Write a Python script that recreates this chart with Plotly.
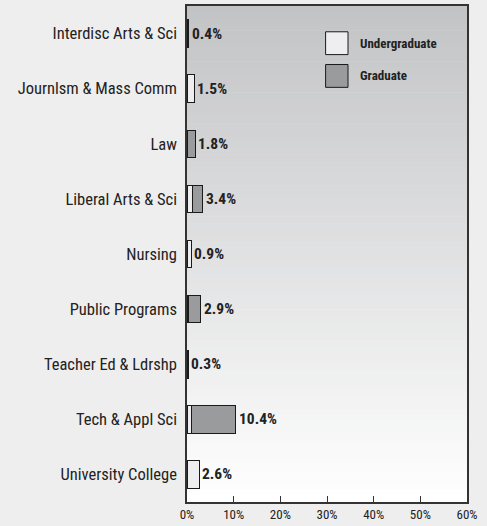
import plotly.graph_objects as go

categories = ["Interdisc Arts & Sci", "Journlsm & Mass Comm", "Law", "Liberal Arts & Sci",
              "Nursing", "Public Programs", "Teacher Ed & Ldrshp", "Tech & Appl Sci",
              "University College"]
undergrad = [0.1, 1.5, 0.0, 1.1, 0.9, 0.4, 0.1, 1.0, 2.6]
graduate = [0.3, 0.0, 1.8, 2.3, 0.0, 2.5, 0.2, 9.4, 0.0]
total_labels = ["0.4%", "1.5%", "1.8%", "3.4%", "0.9%", "2.9%", "0.3%", "10.4%", "2.6%"]
x_ticks = [0, 10, 20, 30, 40, 50, 60]
x_tick_labels = ["0%", "10%", "20%", "30%", "40%", "50%", "60%"]
series_names = ["Undergraduate", "Graduate"]

FONT = "Liberation Sans Narrow, Roboto Condensed, Arial Narrow, sans-serif"
UG_COLOR = "#eeeef0"
GR_COLOR = "#9a9b9d"

fig = go.Figure()
fig.add_trace(go.Bar(y=categories, x=undergrad, orientation="h", name=series_names[0],
                     marker=dict(color=UG_COLOR, line=dict(color="#1a1a1a", width=1)),
                     showlegend=False, hoverinfo="x+y"))
fig.add_trace(go.Bar(y=categories, x=graduate, orientation="h", name=series_names[1],
                     marker=dict(color=GR_COLOR, line=dict(color="#1a1a1a", width=1)),
                     showlegend=False, hoverinfo="x+y"))

# total labels
annotations = []
for cat, u, g, lab in zip(categories, undergrad, graduate, total_labels):
    annotations.append(dict(x=u + g, y=cat, xref="x", yref="y", text=lab, showarrow=False,
                            xanchor="left", xshift=1,
                            font=dict(family=FONT, size=15.5, color="#222222", weight="bold")))

# gradient background via stacked bands
shapes = []
n = 80
top = (194, 195, 197)
bot = (255, 255, 255)
for i in range(n):
    t = (i + 0.5) / n
    c = tuple(int(round(top[k] + (bot[k] - top[k]) * t)) for k in range(3))
    shapes.append(dict(type="rect", xref="x domain", yref="y domain",
                       x0=0, x1=1, y0=1 - (i + 1) / n, y1=1 - i / n + 0.001,
                       fillcolor="rgb(%d,%d,%d)" % c, line=dict(width=0), layer="below"))

# legend (custom)
leg_x0 = 0.495
for j, (nm, col) in enumerate(zip(series_names, [UG_COLOR, GR_COLOR])):
    yc = 0.925 - j * 0.066
    shapes.append(dict(type="rect", xref="x domain", yref="y domain",
                       x0=leg_x0, x1=leg_x0 + 0.08, y0=yc - 0.023, y1=yc + 0.023,
                       fillcolor=col, line=dict(color="#1a1a1a", width=1), layer="above"))
    annotations.append(dict(x=leg_x0 + 0.115, y=yc, xref="x domain", yref="y domain",
                            text=nm, showarrow=False, xanchor="left", yanchor="middle",
                            font=dict(family=FONT, size=13, color="#222222", weight="bold")))

fig.update_layout(
    width=487, height=526,
    margin=dict(l=187, r=20, t=4, b=21),
    paper_bgcolor="#eeeeee",
    plot_bgcolor="#ffffff",
    barmode="stack",
    bargap=0.5,
    showlegend=False,
    shapes=shapes,
    annotations=annotations,
    font=dict(family=FONT, color="#222222"),
)
fig.update_xaxes(range=[0, 60], tickvals=x_ticks, ticktext=x_tick_labels,
                 ticks="inside", ticklen=6, tickcolor="#333333",
                 showline=True, linecolor="#333333", linewidth=1.5, mirror=True,
                 showgrid=False, zeroline=False,
                 tickfont=dict(family=FONT, size=13, color="#222222"))
fig.update_yaxes(autorange="reversed", showline=True, linecolor="#333333", linewidth=1.5,
                 mirror=True, showgrid=False, ticks="", ticklabelstandoff=5,
                 tickfont=dict(family=FONT, size=16.5, color="#222222"))

fig.write_html("out.html", config={"displayModeBar": False},
               post_script="document.body.style.margin='0';document.body.style.overflow='hidden';")
